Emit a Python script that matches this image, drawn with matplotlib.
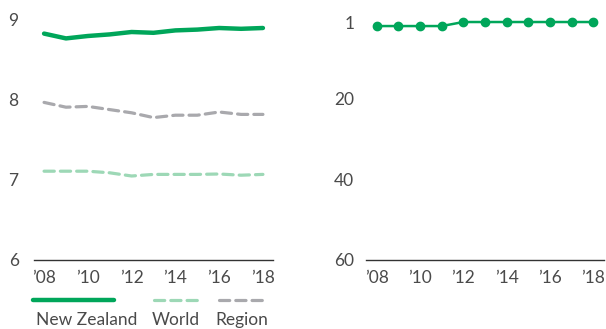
import matplotlib
matplotlib.use("Agg")
import matplotlib.pyplot as plt
from matplotlib.lines import Line2D

years = [2008, 2009, 2010, 2011, 2012, 2013, 2014, 2015, 2016, 2017, 2018]
year_ticks = [2008, 2010, 2012, 2014, 2016, 2018]
year_labels = ["\u201908", "\u201910", "\u201912", "\u201914", "\u201916", "\u201918"]

nz_score = [8.83, 8.77, 8.80, 8.82, 8.85, 8.84, 8.87, 8.88, 8.90, 8.89, 8.90]
region_score = [7.97, 7.91, 7.92, 7.88, 7.84, 7.78, 7.81, 7.81, 7.85, 7.82, 7.82]
world_score = [7.11, 7.11, 7.11, 7.09, 7.05, 7.07, 7.07, 7.07, 7.075, 7.06, 7.07]

nz_rank = [2, 2, 2, 2, 1, 1, 1, 1, 1, 1, 1]

score_ticks = [6, 7, 8, 9]
rank_ticks = [1, 20, 40, 60]

GREEN = "#00a65a"
LIGHT_GREEN = "#9dd8b6"
GRAY = "#a9a9ad"
TEXT = "#4a4a4a"
FS = 12.5

plt.rcParams['font.family'] = ['Lato', 'DejaVu Sans']

W, H = 606, 329
fig = plt.figure(figsize=(W / 100, H / 100), dpi=100)

def px_axes(x0, x1, ytop, ybot):
    return fig.add_axes([x0 / W, 1 - ybot / H, (x1 - x0) / W, (ybot - ytop) / H])

ax1 = px_axes(34, 273, 20, 260)
ax2 = px_axes(366, 604, 20, 260)

dash = (0, (3.2, 1.9))
ax1.plot(years, world_score, color=LIGHT_GREEN, lw=2.3, linestyle=dash, dash_capstyle='round')
ax1.plot(years, region_score, color=GRAY, lw=2.3, linestyle=dash, dash_capstyle='round')
ax1.plot(years, nz_score, color=GREEN, lw=3.2, solid_capstyle='round')
ax1.set_ylim(6, 9)
ax1.set_xlim(2007.54, 2018.46)
ax1.set_yticks(score_ticks)
ax1.set_yticklabels([str(t) for t in score_ticks])

ax2.plot(years, nz_rank, color=GREEN, lw=1.8, marker='o', markersize=6)
ax2.set_ylim(60, 0.5)
ax2.set_xlim(2007.5, 2018.5)
ax2.set_yticks(rank_ticks)
ax2.set_yticklabels([str(t) for t in rank_ticks])

for ax, ypad in ((ax1, 11), (ax2, 8.5)):
    for s in ('top', 'right', 'left'):
        ax.spines[s].set_visible(False)
    ax.spines['bottom'].set_color('#333333')
    ax.spines['bottom'].set_linewidth(1.0)
    ax.set_xticks(year_ticks)
    ax.set_xticklabels(year_labels)
    ax.tick_params(axis='both', length=0, labelsize=FS, labelcolor=TEXT)
    ax.tick_params(axis='x', pad=7)
    ax.tick_params(axis='y', pad=ypad)
    ax.patch.set_alpha(0)
    for ln in ax.lines:
        ln.set_clip_on(False)

# Legend
def fx(x):
    return x / W

def fy(y):
    return 1 - y / H

fig.add_artist(Line2D([fx(33), fx(114)], [fy(300), fy(300)], color=GREEN, lw=3.2,
                      solid_capstyle='round'))
fig.add_artist(Line2D([fx(154), fx(197)], [fy(300), fy(300)], color=LIGHT_GREEN, lw=2.3,
                      linestyle=dash, dash_capstyle='round'))
fig.add_artist(Line2D([fx(219), fx(263)], [fy(300), fy(300)], color=GRAY, lw=2.3,
                      linestyle=dash, dash_capstyle='round'))
for x, lab in ((36, "New Zealand"), (152, "World"), (215, "Region")):
    fig.text(fx(x), fy(320), lab, fontsize=FS, color=TEXT, ha='left', va='center')

fig.savefig("out.png", dpi=100)
